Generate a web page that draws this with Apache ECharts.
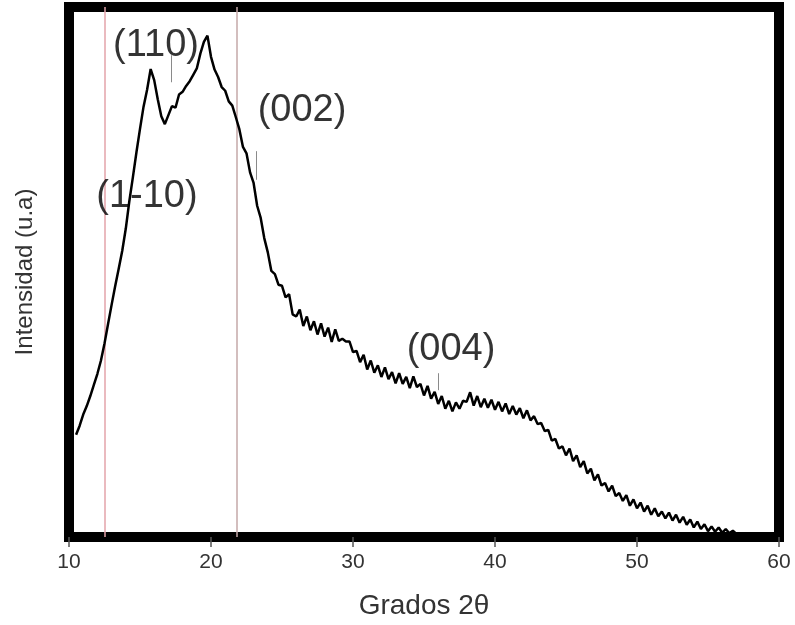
<!DOCTYPE html>
<html>
<head>
<meta charset="utf-8">
<script src="https://cdn.jsdelivr.net/npm/echarts@6/dist/echarts.min.js"></script>
<style>html,body{margin:0;padding:0;background:#fff}#c{width:795px;height:625px}</style>
</head>
<body>
<div id="c"></div>
<script>
// 2θ positions (degrees)
const twoTheta = [
10.5,10.75,11,11.25,11.5,11.75,12,12.25,
12.5,12.75,13,13.25,13.5,13.75,14,14.25,
14.5,14.75,15,15.25,15.5,15.75,16,16.25,
16.5,16.75,17,17.25,17.5,17.75,18,18.25,
18.5,18.75,19,19.25,19.5,19.75,20,20.25,
20.5,20.75,21,21.25,21.5,21.75,22,22.25,
22.5,22.75,23,23.25,23.5,23.75,24,24.25,
24.5,24.75,25,25.25,25.5,25.75,26,26.25,
26.5,26.75,27,27.25,27.5,27.75,28,28.25,
28.5,28.75,29,29.25,29.5,29.75,30,30.25,
30.5,30.75,31,31.25,31.5,31.75,32,32.25,
32.5,32.75,33,33.25,33.5,33.75,34,34.25,
34.5,34.75,35,35.25,35.5,35.75,36,36.25,
36.5,36.75,37,37.25,37.5,37.75,38,38.25,
38.5,38.75,39,39.25,39.5,39.75,40,40.25,
40.5,40.75,41,41.25,41.5,41.75,42,42.25,
42.5,42.75,43,43.25,43.5,43.75,44,44.25,
44.5,44.75,45,45.25,45.5,45.75,46,46.25,
46.5,46.75,47,47.25,47.5,47.75,48,48.25,
48.5,48.75,49,49.25,49.5,49.75,50,50.25,
50.5,50.75,51,51.25,51.5,51.75,52,52.25,
52.5,52.75,53,53.25,53.5,53.75,54,54.25,
54.5,54.75,55,55.25,55.5,55.75,56,56.25,
56.5,56.75,57
];
// Intensity (arbitrary units)
const intensity = [
19.3,21.0,23.1,24.7,26.6,28.7,30.8,33.3,
36.5,40.2,43.8,47.3,50.6,54.0,58.2,63.4,
67.9,72.6,77.0,81.2,84.4,88.3,86.2,82.6,
79.4,77.9,79.6,81.3,81.0,83.5,84.0,85.1,
86.0,87.2,88.4,91.2,93.4,94.6,90.6,88.2,
86.8,84.9,84.2,82.2,81.4,79.2,76.9,73.6,
72.4,68.8,66.8,62.5,60.2,56.4,53.7,50.2,
49.6,47.6,47.4,45.2,45.8,42.0,41.6,42.9,
39.8,41.6,39.0,40.7,38.2,40.3,37.8,39.5,
36.8,39.2,37.0,37.4,36.9,36.9,34.9,35.1,
33.0,34.4,31.6,33.3,31.0,32.4,30.2,32.0,
29.8,31.1,29.0,30.9,28.9,30.2,28.1,30.3,
28.3,28.9,26.7,28.5,26.1,27.4,25.1,26.6,
24.2,25.7,23.7,25.4,24.2,25.7,25.5,27.3,
24.8,26.6,24.5,26.1,24.4,25.9,24.0,25.5,
23.7,25.2,23.2,24.7,23.1,24.3,22.4,23.9,
22.0,22.8,21.3,21.5,20.0,20.2,18.2,18.5,
16.7,17.1,15.4,16.7,14.3,15.4,13.2,14.3,
12.0,12.9,10.7,11.8,9.7,10.2,8.6,9.7,
7.7,8.3,6.8,7.9,5.9,7.1,5.4,6.5,
4.8,5.9,4.2,5.4,3.9,4.8,3.5,4.6,
3.1,4.2,2.7,3.8,2.3,3.3,1.8,2.9,
1.5,2.4,1.1,2.0,1.0,1.8,0.8,1.5,
0.7,1.2,0.6
];
// reference lines (2θ)
const refLines = [12.5, 21.8];
const refColors = ['#e3a3aa', '#c4a8a8'];
// peak labels
const peakLabels = ['(110)', '(002)', '(1-10)', '(004)'];
const peakLabelX = [16.13, 26.41, 15.49, 36.9];
const peakLabelY = [92.8, 80.4, 64.3, 35.3];
// small markers under labels: x, yTop, yBottom
const markerX = [17.2, 23.17, 35.99];
const markerTop = [90.9, 72.8, 30.9];
const markerBottom = [85.8, 67.4, 27.7];
const xTicks = [10, 20, 30, 40, 50, 60];

const chart = echarts.init(document.getElementById('c'), null, {renderer: 'canvas'});
const FONT = "'Liberation Sans', Arial, sans-serif";

const refData = refLines.map((v, i) => ({xAxis: v, lineStyle: {color: refColors[i], width: 1.5, type: 'solid'}}));
const markerData = markerX.map((x, i) => [{coord: [x, markerTop[i]]}, {coord: [x, markerBottom[i]]}]);

chart.setOption({
  animation: false,
  backgroundColor: '#fff',
  grid: {left: 69, right: 16, top: 7, bottom: 88, show: true, borderWidth: 10, borderColor: '#000', backgroundColor: 'transparent'},
  xAxis: {
    type: 'value', min: xTicks[0], max: xTicks[xTicks.length - 1], interval: 10,
    axisLine: {show: false},
    axisTick: {show: true, length: 10, lineStyle: {color: '#555', width: 1.5}},
    axisLabel: {fontSize: 21, color: '#333', margin: 15, fontFamily: FONT},
    splitLine: {show: false},
    name: 'Grados 2θ', nameLocation: 'middle', nameGap: 55,
    nameTextStyle: {fontSize: 28, color: '#333', fontFamily: FONT}
  },
  yAxis: {
    type: 'value', min: 0, max: 100,
    axisLine: {show: false}, axisTick: {show: false}, axisLabel: {show: false},
    splitLine: {show: false},
    name: 'Intensidad (u.a)', nameLocation: 'middle', nameGap: 32,
    nameTextStyle: {fontSize: 24, color: '#333', fontFamily: FONT}
  },
  series: [
    {
      type: 'line', showSymbol: false, symbol: 'none',
      data: twoTheta.map((x, i) => [x, intensity[i]]),
      lineStyle: {color: '#000', width: 2.5},
      z: 5,
      markLine: {
        silent: true, symbol: 'none', label: {show: false},
        data: refData.concat(markerData.map(d => [
          Object.assign({}, d[0], {lineStyle: {color: '#8a8a8a', width: 1, type: 'solid'}}),
          d[1]
        ]))
      }
    },
    {
      type: 'scatter', symbolSize: 0, silent: true, z: 6,
      data: peakLabels.map((t, i) => [peakLabelX[i], peakLabelY[i], t]),
      label: {
        show: true, position: 'inside', formatter: p => p.data[2],
        fontSize: 38, color: '#000', fontFamily: FONT
      }
    }
  ]
});
</script>
</body>
</html>
